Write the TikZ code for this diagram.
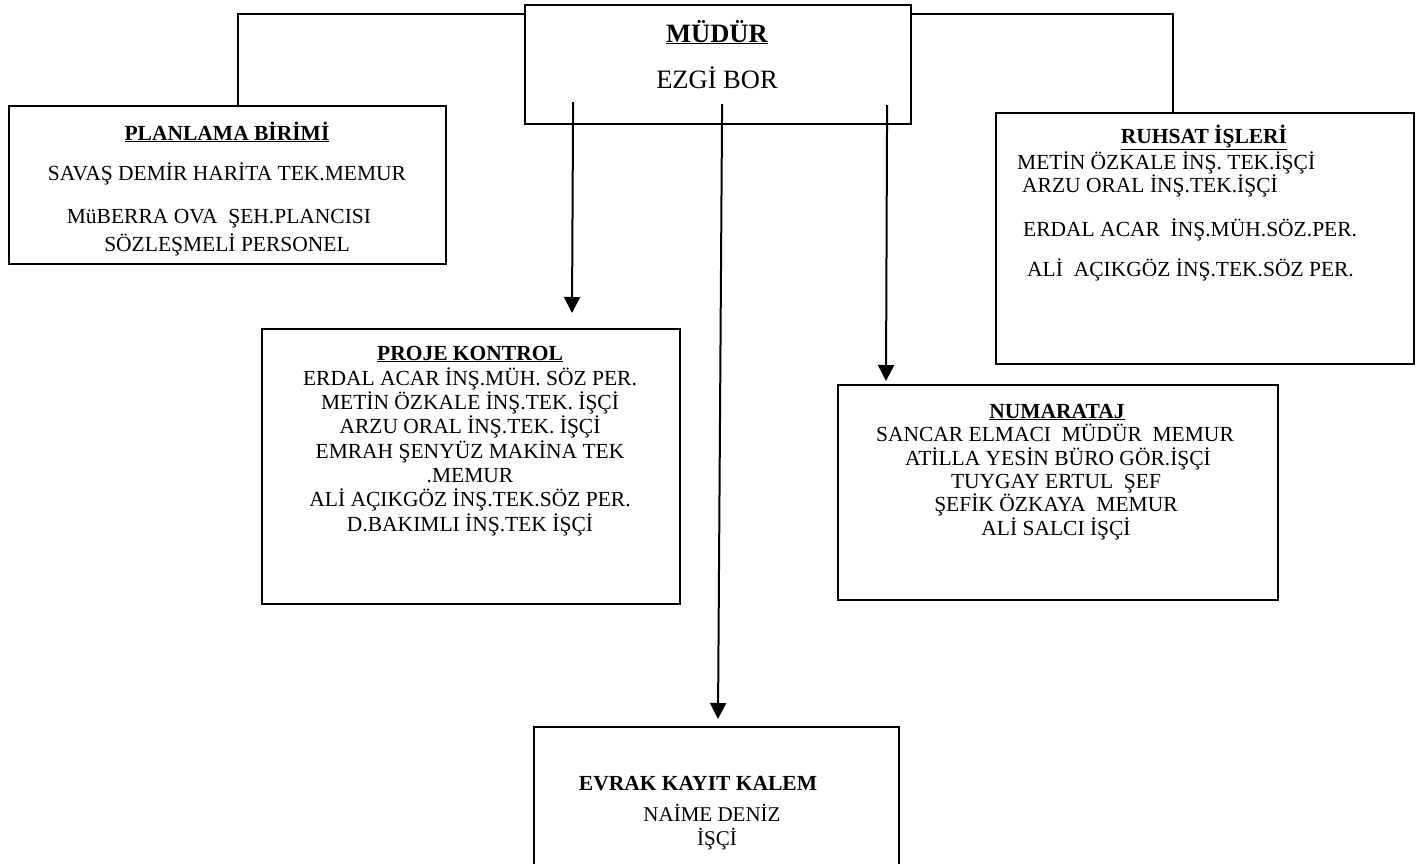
\documentclass[tikz,border=0pt]{standalone}
\usepackage{fontspec}
\setmainfont{Liberation Serif}
\usetikzlibrary{arrows.meta}

\tikzset{
	kutu/.style={draw, line width=2.2pt, inner sep=0pt, anchor=north west},
	hat/.style={line width=2pt},
	ok/.style={line width=2pt, -{Triangle[width=16pt,length=16pt]}},
	satir/.style={anchor=base, inner sep=0pt, font=\fontsize{21.5}{24}\selectfont},
	sol/.style={satir, anchor=base west}
}

\begin{document}
\begin{tikzpicture}[x=1pt,y=-1pt]
	\useasboundingbox (0,0) rectangle (1419,863);
	%\draw[help lines] (0,0) grid[step=100] (1419,863);

	% kutular
	\node[kutu, minimum width=386pt, minimum height=119pt] (mudur) at (524,4) {};
	\node[kutu, minimum width=437pt, minimum height=158pt] (plan) at (8,105) {};
	\node[kutu, minimum width=418pt, minimum height=251pt] (ruhsat) at (995,112) {};
	\node[kutu, minimum width=418pt, minimum height=275pt] (proje) at (261,328) {};
	\node[kutu, minimum width=440pt, minimum height=215pt] (numara) at (837,384) {};
	\node[kutu, minimum width=365pt, minimum height=142pt] (evrak) at (533,726) {};

	% mudur
	\node[satir, font=\fontsize{26.5}{30}\selectfont] (m1) at (717,42) {\underline{\textbf{MÜDÜR}}};
	\node[satir, font=\fontsize{26.5}{30}\selectfont] (m2) at (717,88) {EZGİ BOR};

	% planlama
	\node[satir] (p0) at (227,140) {\underline{\textbf{PLANLAMA BİRİMİ}}};
	\node[satir] (p1) at (227,180) {SAVAŞ DEMİR HARİTA TEK.MEMUR};
	\node[satir] (p2) at (219,223) {MüBERRA OVA\ \ ŞEH.PLANCISI};
	\node[satir] (p3) at (227,251) {SÖZLEŞMELİ PERSONEL};

	% ruhsat
	\node[satir] (r0) at (1204,143) {\underline{\textbf{RUHSAT İŞLERİ}}};
	\node[sol] (r1) at (1017,169) {METİN ÖZKALE İNŞ.\ TEK.İŞÇİ};
	\node[sol] (r2) at (1022,192) {ARZU ORAL İNŞ.TEK.İŞÇİ};
	\node[sol] (r3) at (1023,236) {ERDAL ACAR\ \ İNŞ.MÜH.SÖZ.PER.};
	\node[sol] (r4) at (1027,276) {ALİ\ \ AÇIKGÖZ İNŞ.TEK.SÖZ PER.};

	% proje kontrol
	\node[satir] (k0) at (470,360) {\underline{\textbf{PROJE KONTROL}}};
	\node[satir] (k1) at (470,385) {ERDAL ACAR İNŞ.MÜH. SÖZ PER.};
	\node[satir] (k2) at (470,409) {METİN ÖZKALE İNŞ.TEK. İŞÇİ};
	\node[satir] (k3) at (470,433) {ARZU ORAL İNŞ.TEK. İŞÇİ};
	\node[satir] (k4) at (470,458) {EMRAH ŞENYÜZ MAKİNA TEK};
	\node[satir] (k5) at (470,482) {.MEMUR};
	\node[satir] (k6) at (470,506) {ALİ AÇIKGÖZ İNŞ.TEK.SÖZ PER.};
	\node[satir] (k7) at (470,531) {D.BAKIMLI İNŞ.TEK İŞÇİ};

	% numarataj
	\node[satir] (n0) at (1057,418) {\underline{\textbf{NUMARATAJ}}};
	\node[satir] (n1) at (1055,441) {SANCAR ELMACI\ \ MÜDÜR\ \ MEMUR};
	\node[satir] (n2) at (1058,465) {ATİLLA YESİN BÜRO GÖR.İŞÇİ};
	\node[satir] (n3) at (1056,488) {TUYGAY ERTUL\ \ ŞEF};
	\node[satir] (n4) at (1056,511) {ŞEFİK ÖZKAYA\ \ MEMUR};
	\node[satir] (n5) at (1056,535) {ALİ SALCI İŞÇİ};

	% evrak
	\node[satir] (e0) at (698,790) {\textbf{EVRAK KAYIT KALEM}};
	\node[satir, font=\fontsize{21}{24}\selectfont] (e1) at (712,821) {NAİME DENİZ};
	\node[satir, font=\fontsize{21}{24}\selectfont] (e2) at (717,845) {İŞÇİ};

	% baglantilar
	\draw[hat] ([yshift=-10pt]mudur.north west) -| ([xshift=10.5pt]plan.north);
	\draw[hat] ([yshift=-10pt]mudur.north east) -| ([xshift=-32pt]ruhsat.north);

	\coordinate (projeUc) at (572,313);
	\coordinate (numaraUc) at (886,381);
	\coordinate (evrakUc) at (718,719);
	\draw[ok] ([xshift=-145pt,yshift=23pt]mudur.south) -- (projeUc);
	\draw[ok] ([xshift=169pt,yshift=20pt]mudur.south) -- (numaraUc);
	\draw[ok] ([xshift=4pt,yshift=21pt]mudur.south) -- (evrakUc);
\end{tikzpicture}
\end{document}
